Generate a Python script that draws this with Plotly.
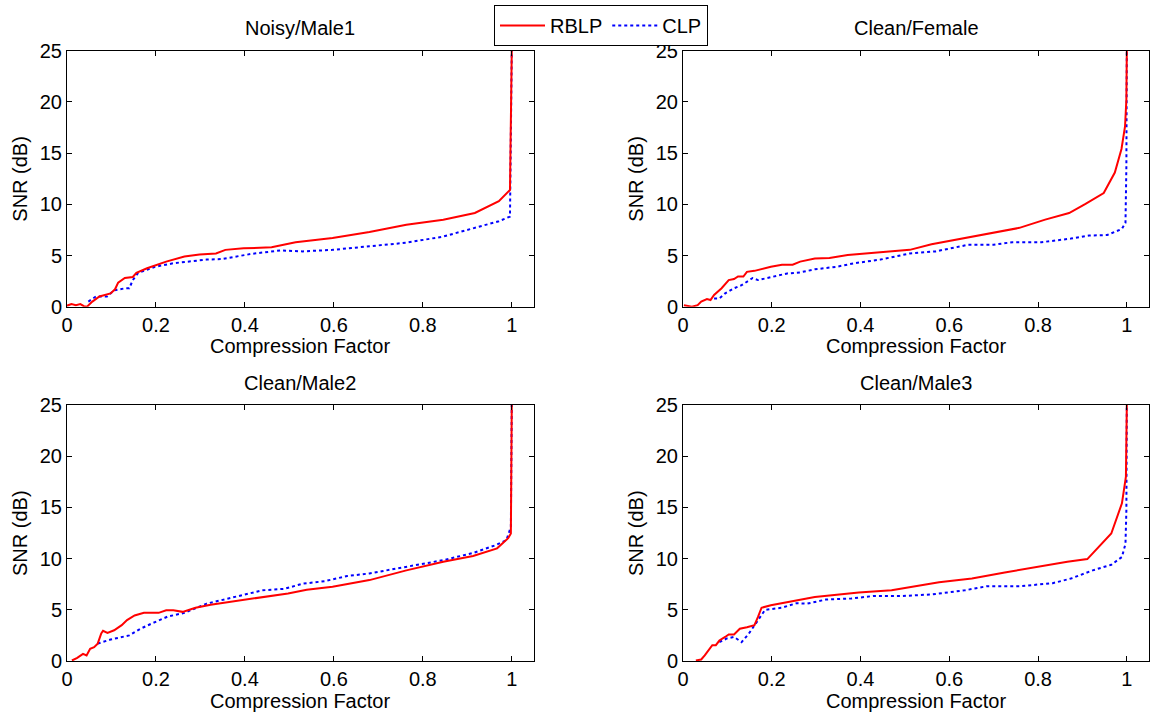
import plotly.graph_objects as go

# ---------------- data ----------------
titles = ["Noisy/Male1", "Clean/Female", "Clean/Male2", "Clean/Male3"]
x_ticks = [0, 0.2, 0.4, 0.6, 0.8, 1]
x_tick_labels = ["0", "0.2", "0.4", "0.6", "0.8", "1"]
y_ticks = [0, 5, 10, 15, 20, 25]
y_tick_labels = ["0", "5", "10", "15", "20", "25"]

nm1_rblp_x = [0.0, 0.01, 0.02, 0.03, 0.038, 0.045, 0.057, 0.073, 0.098, 0.108, 0.115, 0.13, 0.148,
              0.156, 0.18, 0.223, 0.264, 0.298, 0.335, 0.356, 0.397, 0.46, 0.514, 0.597, 0.68,
              0.763, 0.846, 0.917, 0.971, 0.996, 1.0]
nm1_rblp_y = [0.1, 0.25, 0.15, 0.25, 0.05, 0.0, 0.5, 1.0, 1.3, 1.7, 2.35, 2.8, 2.9,
              3.3, 3.75, 4.4, 4.9, 5.1, 5.2, 5.55, 5.7, 5.8, 6.3, 6.7, 7.3,
              8.0, 8.5, 9.15, 10.3, 11.4, 25]
nm1_clp_x = [0.048, 0.065, 0.09, 0.106, 0.131, 0.14, 0.148, 0.16, 0.198, 0.24, 0.314, 0.347,
             0.414, 0.48, 0.53, 0.597, 0.68, 0.763, 0.846, 0.92, 0.971, 0.996, 1.0]
nm1_clp_y = [0.5, 1.0, 1.0, 1.6, 1.8, 1.8, 2.6, 3.3, 3.9, 4.25, 4.6, 4.65,
             5.15, 5.5, 5.4, 5.55, 5.9, 6.25, 6.85, 7.7, 8.35, 8.8, 25]

cf_rblp_x = [0.002, 0.02, 0.033, 0.041, 0.054, 0.062, 0.07, 0.087, 0.103, 0.115, 0.124, 0.136,
             0.144, 0.161, 0.198, 0.223, 0.247, 0.264, 0.297, 0.33, 0.371, 0.445, 0.511, 0.56,
             0.635, 0.692, 0.758, 0.816, 0.87, 0.907, 0.948, 0.973, 0.988, 0.996, 0.999, 1.0]
cf_rblp_y = [0.15, 0.0, 0.15, 0.5, 0.75, 0.65, 1.15, 1.8, 2.6, 2.7, 2.95, 2.95,
             3.4, 3.5, 3.9, 4.1, 4.1, 4.4, 4.7, 4.75, 5.05, 5.3, 5.55, 6.1,
             6.7, 7.2, 7.7, 8.5, 9.15, 10.05, 11.1, 13.1, 15.4, 17.6, 20.2, 25]
cf_clp_x = [0.07, 0.082, 0.095, 0.115, 0.132, 0.157, 0.169, 0.206, 0.235, 0.264, 0.297, 0.346,
            0.387, 0.445, 0.511, 0.569, 0.643, 0.7, 0.742, 0.808, 0.874, 0.915, 0.956, 0.989,
            0.997, 0.999, 1.0]
cf_clp_y = [0.8, 0.8, 1.3, 1.8, 2.1, 2.8, 2.6, 2.95, 3.25, 3.35, 3.65, 3.9,
            4.25, 4.6, 5.2, 5.4, 6.05, 6.05, 6.3, 6.3, 6.65, 6.95, 7.0, 7.6,
            8.2, 13.7, 25]

cm2_rblp_x = [0.011, 0.023, 0.036, 0.044, 0.052, 0.061, 0.069, 0.077, 0.081, 0.091, 0.106, 0.123,
              0.135, 0.152, 0.173, 0.206, 0.223, 0.239, 0.26, 0.289, 0.323, 0.397, 0.497, 0.539,
              0.597, 0.68, 0.763, 0.846, 0.913, 0.967, 0.992, 0.998, 1.0]
cm2_rblp_y = [0.05, 0.3, 0.7, 0.55, 1.2, 1.35, 1.7, 2.7, 2.95, 2.75, 3.0, 3.5,
              4.0, 4.45, 4.7, 4.7, 4.95, 4.95, 4.8, 5.2, 5.5, 5.95, 6.6, 6.95,
              7.25, 7.9, 8.85, 9.7, 10.25, 11.0, 12.0, 12.45, 25]
cm2_clp_x = [0.069, 0.098, 0.14, 0.165, 0.19, 0.227, 0.264, 0.314, 0.372, 0.439, 0.489, 0.53,
             0.58, 0.63, 0.68, 0.763, 0.846, 0.913, 0.963, 0.988, 0.998, 1.0]
cm2_clp_y = [1.7, 2.1, 2.5, 3.15, 3.65, 4.35, 4.7, 5.6, 6.2, 6.9, 7.05, 7.55,
             7.8, 8.3, 8.55, 9.2, 9.85, 10.55, 11.3, 11.8, 13.1, 25]

cm3_rblp_x = [0.029, 0.041, 0.049, 0.058, 0.066, 0.074, 0.082, 0.095, 0.103, 0.115, 0.128, 0.144,
              0.161, 0.169, 0.177, 0.198, 0.231, 0.264, 0.297, 0.396, 0.47, 0.577, 0.651, 0.725,
              0.8, 0.866, 0.911, 0.965, 0.989, 0.998, 1.0]
cm3_rblp_y = [0.05, 0.15, 0.55, 1.05, 1.55, 1.55, 2.0, 2.35, 2.6, 2.6, 3.15, 3.3,
              3.5, 4.3, 5.2, 5.45, 5.7, 5.95, 6.25, 6.7, 6.9, 7.7, 8.05, 8.65,
              9.2, 9.7, 9.95, 12.45, 15.4, 18.0, 25]
cm3_clp_x = [0.082, 0.099, 0.115, 0.132, 0.148, 0.161, 0.173, 0.185, 0.223, 0.256, 0.28, 0.322,
             0.379, 0.429, 0.495, 0.56, 0.635, 0.684, 0.758, 0.833, 0.874, 0.923, 0.965, 0.989,
             0.997, 0.999, 1.0]
cm3_clp_y = [1.85, 2.2, 2.35, 1.85, 2.65, 3.5, 4.3, 5.0, 5.2, 5.65, 5.6, 6.0,
             6.1, 6.35, 6.35, 6.5, 6.9, 7.3, 7.3, 7.6, 8.05, 8.85, 9.4, 10.15,
             11.45, 14.7, 25]

panels = [
    (nm1_rblp_x, nm1_rblp_y, nm1_clp_x, nm1_clp_y),
    (cf_rblp_x, cf_rblp_y, cf_clp_x, cf_clp_y),
    (cm2_rblp_x, cm2_rblp_y, cm2_clp_x, cm2_clp_y),
    (cm3_rblp_x, cm3_rblp_y, cm3_clp_x, cm3_clp_y),
]

# ---------------- layout geometry ----------------
W, H = 1154, 719
FONT = "Liberation Sans, Arial, Helvetica, sans-serif"
FS = 20
x_domains = [[67 / W, 534 / W], [683 / W, 1149 / W]]
y_domains = [[1 - 306.7 / H, 1 - 50.7 / H], [1 - 661 / H, 1 - 405 / H]]

fig = go.Figure()
annotations = []
for i, (rx, ry, cx, cy) in enumerate(panels):
    row, col = divmod(i, 2)
    suffix = "" if i == 0 else str(i + 1)
    xa, ya = "x" + suffix, "y" + suffix
    fig.add_trace(go.Scatter(x=cx, y=cy, mode="lines", name="CLP", legendrank=2,
                             line=dict(color="#0000FF", width=2, dash="dot"),
                             xaxis=xa, yaxis=ya, showlegend=(i == 0)))
    fig.add_trace(go.Scatter(x=rx, y=ry, mode="lines", name="RBLP", legendrank=1,
                             line=dict(color="#FF0000", width=2),
                             xaxis=xa, yaxis=ya, showlegend=(i == 0)))
    axis_common = dict(showline=True, linecolor="black", linewidth=1, mirror="ticks",
                       ticks="inside", ticklen=5, tickcolor="black", showgrid=False,
                       zeroline=False, automargin=False,
                       tickfont=dict(family=FONT, size=FS, color="black"))
    fig.layout["xaxis" + suffix] = dict(domain=x_domains[col], anchor=ya, range=[0, 1.05],
                                        tickvals=x_ticks, ticktext=x_tick_labels, **axis_common)
    fig.layout["yaxis" + suffix] = dict(domain=y_domains[row], anchor=xa, range=[0, 25],
                                        tickvals=y_ticks, ticktext=y_tick_labels, **axis_common)
    xd, yd = x_domains[col], y_domains[row]
    xc = (xd[0] + xd[1]) / 2
    top_px = (1 - yd[1]) * H
    bot_px = (1 - yd[0]) * H
    # subplot title
    annotations.append(dict(text=titles[i], xref="paper", yref="paper", x=xc,
                            y=1 - (top_px - 22.5) / H, xanchor="center", yanchor="middle",
                            showarrow=False, font=dict(family=FONT, size=FS, color="black")))
    # x axis title
    annotations.append(dict(text="Compression Factor", xref="paper", yref="paper", x=xc,
                            y=1 - (bot_px + 39.5) / H, xanchor="center", yanchor="middle",
                            showarrow=False, font=dict(family=FONT, size=FS, color="black")))
    # y axis title
    annotations.append(dict(text="SNR (dB)", xref="paper", yref="paper",
                            x=(xd[0] * W - 47) / W, y=(yd[0] + yd[1]) / 2,
                            xanchor="center", yanchor="middle", textangle=-90,
                            showarrow=False, font=dict(family=FONT, size=FS, color="black")))

fig.update_layout(
    width=W, height=H,
    margin=dict(l=0, r=0, t=0, b=0, pad=0, autoexpand=False),
    paper_bgcolor="white", plot_bgcolor="white",
    font=dict(family=FONT, size=FS, color="black"),
    annotations=annotations,
    legend=dict(orientation="h", x=494 / W, y=1 - 5 / H, xanchor="left", yanchor="top",
                bordercolor="black", borderwidth=1, bgcolor="white",
                font=dict(family=FONT, size=FS, color="black"),
                traceorder="normal", itemwidth=45),
    showlegend=True,
)

fig.write_html("out.html")
